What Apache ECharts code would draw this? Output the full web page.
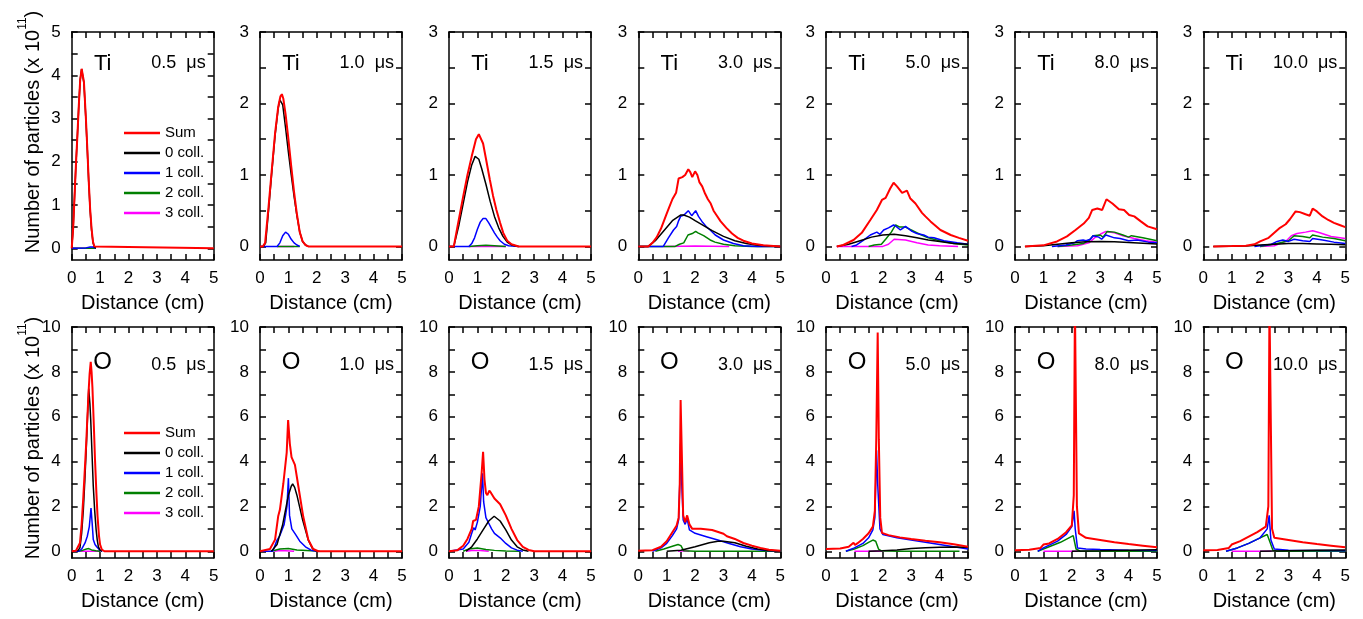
<!DOCTYPE html>
<html><head><meta charset="utf-8">
<script src="https://cdn.jsdelivr.net/npm/echarts@6/dist/echarts.min.js"></script>
<style>html,body{margin:0;padding:0;background:#fff}#c{width:1363px;height:619px}</style>
</head><body><div id="c"></div>
<script>
// ---------- tick / label values ----------
const X_TICKS = [0,0.5,1,1.5,2,2.5,3,3.5,4,4.5,5];
const X_LABELS = [0,1,2,3,4,5];
const TI5_TICKS = [0,0.5,1,1.5,2,2.5,3,3.5,4,4.5,5];
const TI5_LABELS = [0,1,2,3,4,5];
const TI3_TICKS = [0,0.5,1,1.5,2,2.5,3];
const TI3_LABELS = [0,1,2,3];
const O_TICKS = [0,1,2,3,4,5,6,7,8,9,10];
const O_LABELS = [0,2,4,6,8,10];
const TIMES = ['0.5  \u03bcs','1.0  \u03bcs','1.5  \u03bcs','3.0  \u03bcs','5.0  \u03bcs','8.0  \u03bcs','10.0  \u03bcs'];
const LEGEND_NAMES = ['Sum','0 coll.','1 coll.','2 coll.','3 coll.'];

// ---------- Ti panels (x in cm, y in 1e11) ----------
const ti_05 = {
  sum: [[0,0],[0.05,0.45],[0.1,1.2],[0.15,1.95],[0.2,2.6],[0.25,3.3],[0.3,3.9],[0.35,4.15],[0.39,4.12],[0.43,3.85],[0.5,3.0],[0.55,2.3],[0.6,1.55],[0.65,0.9],[0.7,0.45],[0.75,0.15],[0.8,0.04],[0.85,0],[5,0]],
  c0: [[0,0],[0.05,0.45],[0.1,1.2],[0.15,1.95],[0.2,2.6],[0.25,3.3],[0.3,3.9],[0.35,4.14],[0.39,4.1],[0.43,3.82],[0.5,2.97],[0.55,2.27],[0.6,1.52],[0.65,0.87],[0.7,0.42],[0.75,0.13],[0.8,0.03],[0.85,0]],
  c1: [[0,0],[0.5,0.01],[0.65,0.03],[0.75,0.03],[0.85,0]],
  c2: [[0,0],[0.85,0]],
  c3: [[0,0],[0.85,0]]
};
const ti_10 = {
  sum: [[0,0],[0.1,0],[0.18,0.05],[0.3,0.55],[0.4,1.0],[0.53,1.58],[0.64,1.95],[0.72,2.1],[0.77,2.13],[0.82,2.07],[0.9,1.85],[1.0,1.5],[1.1,1.12],[1.2,0.76],[1.3,0.45],[1.4,0.2],[1.5,0.07],[1.6,0.02],[1.7,0],[5,0]],
  c0: [[0,0],[0.12,0],[0.2,0.05],[0.3,0.5],[0.4,0.97],[0.53,1.55],[0.64,1.93],[0.7,2.05],[0.74,2.07],[0.8,1.98],[0.9,1.66],[1.0,1.32],[1.1,1.0],[1.2,0.7],[1.3,0.43],[1.4,0.2],[1.5,0.07],[1.6,0.02],[1.7,0]],
  c1: [[0,0],[0.6,0],[0.7,0.05],[0.8,0.15],[0.9,0.2],[1.0,0.17],[1.1,0.1],[1.2,0.05],[1.3,0.02],[1.4,0]],
  c2: [[0.6,0],[1.4,0]],
  c3: [[0.6,0],[1.2,0]]
};
const ti_15 = {
  sum: [[0,0],[0.17,0],[0.3,0.28],[0.5,0.7],[0.65,1.0],[0.8,1.26],[0.95,1.5],[1.05,1.57],[1.12,1.55],[1.2,1.44],[1.3,1.23],[1.44,0.93],[1.55,0.71],[1.67,0.51],[1.8,0.33],[1.91,0.19],[2.05,0.08],[2.2,0.03],[2.45,0],[5,0]],
  c0: [[0,0],[0.17,0],[0.35,0.3],[0.5,0.6],[0.65,0.9],[0.8,1.14],[0.92,1.26],[0.97,1.27],[1.05,1.22],[1.15,1.09],[1.3,0.87],[1.45,0.63],[1.6,0.42],[1.75,0.26],[1.9,0.14],[2.05,0.06],[2.2,0.02],[2.45,0]],
  c1: [[0,0],[0.7,0],[0.8,0.04],[0.9,0.12],[1.0,0.24],[1.1,0.34],[1.2,0.39],[1.3,0.39],[1.4,0.33],[1.5,0.26],[1.6,0.19],[1.7,0.13],[1.8,0.08],[1.95,0.03],[2.1,0.01],[2.45,0]],
  c2: [[0.7,0],[1.0,0.01],[1.3,0.015],[1.6,0.01],[2.0,0]],
  c3: [[0.7,0],[2.0,0]]
};
const ti_30 = {
  sum: [[0,0],[0.35,0],[0.5,0.05],[0.65,0.13],[0.8,0.25],[1.0,0.46],[1.1,0.56],[1.2,0.66],[1.33,0.75],[1.42,0.95],[1.55,0.97],[1.65,1.0],[1.76,1.08],[1.83,1.04],[1.9,0.97],[2.0,1.05],[2.08,1.0],[2.15,0.9],[2.25,0.84],[2.35,0.74],[2.45,0.66],[2.55,0.6],[2.65,0.5],[2.75,0.44],[2.9,0.35],[3.1,0.26],[3.3,0.18],[3.5,0.12],[3.7,0.08],[4.0,0.04],[4.4,0.015],[5,0]],
  c0: [[0,0],[0.35,0],[0.6,0.08],[0.9,0.22],[1.2,0.36],[1.5,0.44],[1.6,0.44],[1.8,0.41],[2.0,0.36],[2.3,0.29],[2.6,0.22],[3.0,0.14],[3.4,0.08],[3.8,0.04],[4.2,0.015],[4.6,0.005],[5,0]],
  c1: [[0,0],[0.88,0],[1.06,0.12],[1.24,0.23],[1.35,0.28],[1.41,0.35],[1.49,0.42],[1.61,0.44],[1.76,0.5],[1.88,0.43],[2.02,0.5],[2.12,0.42],[2.24,0.35],[2.41,0.27],[2.53,0.23],[2.71,0.16],[3.0,0.09],[3.35,0.04],[3.7,0.01],[4.2,0],[5,0]],
  c2: [[0,0],[1.3,0],[1.45,0.03],[1.6,0.05],[1.75,0.16],[1.9,0.18],[2.02,0.21],[2.1,0.19],[2.3,0.15],[2.53,0.09],[2.7,0.06],[3.0,0.03],[3.4,0.01],[4,0],[5,0]],
  c3: [[0.9,0],[1.5,0.004],[2.0,0.006],[2.6,0.004],[3.2,0]]
};
const ti_50 = {
  sum: [[0.38,0],[0.61,0.02],[0.97,0.09],[1.26,0.19],[1.56,0.37],[1.79,0.51],[1.97,0.65],[2.1,0.68],[2.26,0.81],[2.38,0.89],[2.5,0.84],[2.68,0.75],[2.85,0.78],[2.97,0.67],[3.15,0.6],[3.38,0.47],[3.5,0.42],[3.68,0.35],[4.03,0.23],[4.39,0.16],[4.68,0.12],[5,0.08]],
  c0: [[0.38,0],[0.8,0.03],[1.2,0.08],[1.6,0.13],[2.0,0.16],[2.4,0.17],[2.8,0.15],[3.2,0.12],[3.6,0.09],[4.0,0.07],[4.5,0.04],[5,0.03]],
  c1: [[0.9,0],[1.08,0.02],[1.3,0.08],[1.56,0.16],[1.79,0.2],[1.9,0.17],[2.03,0.23],[2.2,0.26],[2.38,0.3],[2.5,0.27],[2.62,0.23],[2.8,0.28],[3.03,0.21],[3.2,0.18],[3.44,0.16],[3.6,0.13],[3.8,0.12],[4.15,0.08],[4.62,0.05],[5,0.03]],
  c2: [[1.5,0],[1.7,0.02],[1.95,0.03],[2.1,0.1],[2.3,0.2],[2.45,0.3],[2.6,0.27],[2.8,0.27],[3.0,0.23],[3.3,0.17],[3.6,0.12],[4.0,0.08],[4.5,0.04],[5,0.02]],
  c3: [[0.38,0],[2.0,0],[2.2,0.03],[2.4,0.1],[2.8,0.09],[3.2,0.05],[3.6,0.02],[4.0,0.01],[4.65,0]]
};
const ti_80 = {
  sum: [[0.35,0],[1.0,0.015],[1.48,0.07],[1.83,0.14],[2.13,0.23],[2.42,0.32],[2.6,0.4],[2.72,0.51],[2.9,0.53],[3.07,0.51],[3.22,0.66],[3.43,0.6],[3.66,0.52],[3.84,0.51],[4.02,0.44],[4.2,0.42],[4.43,0.35],[4.67,0.28],[5,0.24]],
  c0: [[0.35,0],[1.0,0.01],[1.5,0.03],[2.0,0.05],[2.5,0.065],[3.0,0.07],[3.5,0.065],[4.0,0.055],[4.5,0.045],[5,0.035]],
  c1: [[1.3,0],[1.8,0.02],[2.1,0.05],[2.2,0.08],[2.4,0.09],[2.5,0.08],[2.65,0.1],[2.75,0.15],[2.95,0.13],[3.05,0.1],[3.2,0.16],[3.5,0.12],[3.7,0.11],[4.0,0.08],[4.3,0.09],[4.7,0.06],[5,0.05]],
  c2: [[1.5,0],[2.0,0.02],[2.4,0.04],[2.6,0.08],[2.75,0.15],[3.0,0.16],[3.1,0.13],[3.25,0.21],[3.5,0.2],[3.8,0.16],[4.0,0.13],[4.1,0.15],[4.5,0.12],[5,0.08]],
  c3: [[1.5,0],[2.2,0.01],[2.6,0.05],[2.8,0.12],[3.0,0.17],[3.2,0.21],[3.5,0.19],[3.8,0.15],[4.2,0.11],[4.6,0.08],[5,0.06]]
};
const ti_100 = {
  sum: [[0.35,0],[1.0,0.005],[1.5,0.01],[1.8,0.03],[2.0,0.07],[2.3,0.12],[2.5,0.19],[2.7,0.26],[2.9,0.31],[3.05,0.38],[3.25,0.49],[3.4,0.48],[3.6,0.45],[3.75,0.43],[3.85,0.53],[4.0,0.49],[4.2,0.42],[4.4,0.37],[4.6,0.33],[4.8,0.3],[5,0.27]],
  c0: [[0.35,0],[1.5,0.005],[2,0.02],[2.5,0.03],[3,0.04],[3.5,0.04],[4,0.035],[4.5,0.03],[5,0.025]],
  c1: [[1.8,0],[2.4,0.03],[2.6,0.07],[2.8,0.09],[3.0,0.07],[3.2,0.1],[3.5,0.08],[3.75,0.07],[3.85,0.11],[4.2,0.09],[4.6,0.06],[5,0.04]],
  c2: [[2.0,0],[2.6,0.04],[3.0,0.08],[3.2,0.15],[3.5,0.14],[3.75,0.12],[3.85,0.16],[4.2,0.13],[4.6,0.11],[5,0.08]],
  c3: [[2.0,0],[2.5,0.01],[2.9,0.07],[3.1,0.15],[3.3,0.18],[3.6,0.2],[3.85,0.22],[4.1,0.19],[4.5,0.14],[5,0.11]]
};

// ---------- O panels ----------
const o_05 = {
  sum: [[0,0],[0.15,0.02],[0.22,0.1],[0.29,0.37],[0.35,1.2],[0.41,2.44],[0.46,3.6],[0.51,4.8],[0.55,5.9],[0.59,7.0],[0.63,7.9],[0.67,8.45],[0.7,8.0],[0.73,7.3],[0.78,5.6],[0.82,4.1],[0.87,2.6],[0.91,1.56],[0.96,0.7],[1.0,0.3],[1.06,0.08],[1.15,0],[5,0]],
  c0: [[0.2,0],[0.29,0.15],[0.35,0.8],[0.41,1.85],[0.46,3.1],[0.51,4.5],[0.56,6.1],[0.6,7.26],[0.64,6.6],[0.67,5.85],[0.72,4.2],[0.76,2.9],[0.81,1.8],[0.86,0.96],[0.9,0.5],[0.94,0.2],[1.0,0.05],[1.06,0]],
  c1: [[0,0],[0.25,0],[0.35,0.1],[0.47,0.37],[0.55,0.67],[0.62,1.1],[0.68,1.93],[0.72,1.26],[0.76,0.52],[0.82,0.3],[0.88,0.2],[1.0,0.04],[1.08,0]],
  c2: [[0,0],[0.25,0],[0.4,0.05],[0.52,0.1],[0.6,0.12],[0.7,0.06],[0.85,0.02],[1.0,0]],
  c3: [[0.3,0],[1.0,0]]
};
const o_10 = {
  sum: [[0,0],[0.35,0.1],[0.53,0.52],[0.64,1.56],[0.7,1.85],[0.82,3.0],[0.94,4.4],[0.99,5.85],[1.02,5.93],[1.05,4.8],[1.11,4.2],[1.23,3.85],[1.35,2.9],[1.52,1.56],[1.7,0.52],[1.87,0.1],[2.05,0],[5,0]],
  c0: [[0.4,0],[0.6,0.3],[0.8,1.2],[1.0,2.5],[1.1,2.9],[1.15,3.0],[1.22,2.85],[1.3,2.5],[1.5,1.4],[1.7,0.5],[1.85,0.12],[2.0,0]],
  c1: [[0,0],[0.45,0],[0.6,0.5],[0.7,0.7],[0.85,1.2],[0.95,2.0],[1.0,3.26],[1.04,1.6],[1.12,1.0],[1.25,0.75],[1.4,0.45],[1.6,0.2],[1.8,0.05],[2.0,0]],
  c2: [[0.4,0],[0.7,0.1],[1.0,0.12],[1.3,0.06],[1.8,0.02],[2.1,0]],
  c3: [[0.5,0],[0.7,0.03],[0.9,0.02],[1.2,0]]
};
const o_15 = {
  sum: [[0,0],[0.3,0.05],[0.5,0.25],[0.65,0.55],[0.8,1.0],[0.85,1.35],[0.9,1.3],[0.95,1.4],[1.05,2.0],[1.15,3.5],[1.2,4.44],[1.25,3.2],[1.3,2.6],[1.35,2.5],[1.42,2.7],[1.48,2.6],[1.6,2.35],[1.8,2.1],[2.0,1.6],[2.2,1.0],[2.4,0.5],[2.6,0.2],[2.8,0.06],[3.0,0],[5,0]],
  c0: [[0.6,0],[0.8,0.2],[1.0,0.55],[1.2,0.95],[1.4,1.35],[1.59,1.56],[1.8,1.35],[2.0,0.95],[2.2,0.5],[2.4,0.2],[2.6,0.06],[2.8,0]],
  c1: [[0,0],[0.5,0.1],[0.7,0.4],[0.8,0.8],[0.87,1.05],[0.92,0.95],[1.0,1.3],[1.1,2.0],[1.18,3.48],[1.22,2.2],[1.3,1.5],[1.4,1.25],[1.5,1.0],[1.6,0.8],[1.8,0.6],[2.0,0.35],[2.2,0.15],[2.4,0.05],[2.6,0]],
  c2: [[0.5,0],[0.7,0.1],[1.0,0.15],[1.3,0.08],[1.6,0.04],[2.0,0.01],[2.5,0]],
  c3: [[0.6,0],[0.8,0.03],[1.0,0.04],[1.2,0.02],[1.4,0]]
};
const o_30 = {
  sum: [[0,0.02],[0.5,0.05],[0.8,0.2],[1.0,0.45],[1.2,0.85],[1.35,1.15],[1.42,1.5],[1.46,3.0],[1.49,6.74],[1.53,4.5],[1.58,1.6],[1.65,1.3],[1.72,1.6],[1.8,1.2],[1.9,1.0],[2.2,1.0],[2.6,0.95],[3.0,0.78],[3.12,0.67],[3.4,0.55],[3.7,0.37],[4.0,0.25],[4.3,0.15],[4.6,0.07],[5,0.02]],
  c0: [[1.0,0],[1.5,0.05],[2.0,0.2],[2.5,0.38],[2.8,0.45],[3.0,0.45],[3.4,0.38],[3.8,0.22],[4.2,0.1],[4.6,0.03],[5,0.01]],
  c1: [[0.5,0],[0.8,0.15],[1.0,0.35],[1.2,0.7],[1.35,1.0],[1.42,1.4],[1.46,3.0],[1.49,4.8],[1.53,3.0],[1.58,1.4],[1.65,1.2],[1.72,1.45],[1.8,0.95],[2.0,0.8],[2.4,0.65],[2.8,0.5],[3.2,0.35],[3.6,0.2],[4.0,0.1],[4.5,0.03],[5,0.01]],
  c2: [[0.6,0],[0.9,0.1],[1.2,0.22],[1.4,0.3],[1.5,0.25],[1.6,0.02],[2,0],[5,0]],
  c3: [[1.4,0],[1.6,0.02],[1.8,0]]
};
const o_50 = {
  sum: [[0,0.1],[0.5,0.12],[0.8,0.2],[0.97,0.38],[1.02,0.28],[1.1,0.35],[1.3,0.55],[1.5,0.8],[1.65,1.1],[1.72,1.8],[1.77,5.0],[1.82,9.75],[1.86,5.0],[1.91,1.5],[1.97,0.82],[2.2,0.72],[2.6,0.62],[3.0,0.55],[3.5,0.47],[4.0,0.4],[4.5,0.31],[5,0.2]],
  c0: [[1.5,0],[2.0,0.02],[2.5,0.06],[3.0,0.12],[3.5,0.16],[4.0,0.18],[4.5,0.19],[5,0.18]],
  c1: [[0.7,0],[1.0,0.15],[1.3,0.35],[1.5,0.6],[1.65,0.95],[1.72,1.5],[1.78,4.5],[1.82,3.0],[1.9,1.0],[2.0,0.75],[2.5,0.6],[3.0,0.5],[3.5,0.4],[4.0,0.3],[4.5,0.2],[5,0.1]],
  c2: [[0.7,0],[1.0,0.1],[1.3,0.25],[1.5,0.4],[1.65,0.5],[1.75,0.45],[1.85,0.1],[1.95,0.02],[2.5,0],[4.7,0]],
  c3: [[1.0,0],[2.0,0]]
};
const o_80 = {
  sum: [[0,0.05],[0.5,0.07],[0.9,0.15],[1.0,0.3],[1.2,0.35],[1.5,0.55],[1.8,0.85],[2.0,1.15],[2.07,2.5],[2.11,11],[2.14,11],[2.18,2.0],[2.25,0.8],[2.5,0.6],[3.0,0.5],[3.5,0.4],[4.0,0.32],[4.5,0.25],[5,0.18]],
  c0: [[2.0,0],[3.0,0.02],[4.0,0.05],[5,0.07]],
  c1: [[0.8,0],[1.0,0.15],[1.5,0.45],[1.8,0.75],[2.0,1.1],[2.08,1.8],[2.12,1.0],[2.2,0.15],[2.5,0.1],[3,0.08],[4,0.05],[5,0.03]],
  c2: [[0.8,0],[1.2,0.2],[1.6,0.4],[1.9,0.6],[2.05,0.7],[2.15,0.1],[2.3,0],[5,0]],
  c3: [[1.0,0],[2.2,0]]
};
const o_100 = {
  sum: [[0,0.05],[0.5,0.06],[0.9,0.15],[1.0,0.3],[1.3,0.45],[1.6,0.65],[1.9,0.85],[2.2,1.1],[2.29,2.0],[2.33,11],[2.37,11],[2.42,1.0],[2.5,0.6],[3.0,0.5],[3.5,0.4],[4.0,0.32],[4.5,0.25],[5,0.18]],
  c0: [[2.0,0],[3.0,0.02],[4.0,0.04],[5,0.06]],
  c1: [[0.8,0],[1.2,0.15],[1.6,0.35],[2.0,0.6],[2.25,1.0],[2.32,1.6],[2.38,0.5],[2.5,0.1],[3,0.05],[5,0.02]],
  c2: [[0.8,0],[1.2,0.15],[1.6,0.35],[2.0,0.6],[2.25,0.75],[2.35,0.4],[2.45,0.05],[2.6,0],[5,0]],
  c3: [[1.0,0],[2.4,0]]
};

const TI_PANELS = [ti_05, ti_10, ti_15, ti_30, ti_50, ti_80, ti_100];
const O_PANELS = [o_05, o_10, o_15, o_30, o_50, o_80, o_100];

// ---------- layout / style ----------
const FONT = "'Liberation Sans', Arial, sans-serif";
const LEFTS = [71.7, 260, 449, 638.3, 826, 1015, 1203.3];
const PW = 142;
const ROW_TOP = [32, 327];
const ROW_H = [228, 231];
const KEYS = ['c3','c2','c1','c0','sum'];          // draw order (Sum on top)
const NAMES = {sum:'Sum', c0:'0 coll.', c1:'1 coll.', c2:'2 coll.', c3:'3 coll.'};
const COLORS = {sum:'#ff0000', c0:'#000000', c1:'#0000ff', c2:'#008000', c3:'#ff00ff'};

const grids = [], xAxes = [], yAxes = [], series = [], graphics = [];
const lineSt = {color:'#000', width:1.5};

for (let i = 0; i < 14; i++) {
  const row = i < 7 ? 0 : 1, col = i % 7;
  const panel = row === 0 ? TI_PANELS[col] : O_PANELS[col];
  let ymin, ymax, yt, yl;
  if (row === 1) { ymin = -0.3; ymax = 10; yt = O_TICKS; yl = O_LABELS; }
  else if (col === 0) { ymin = -0.27; ymax = 5; yt = TI5_TICKS; yl = TI5_LABELS; }
  else { ymin = -0.19; ymax = 3; yt = TI3_TICKS; yl = TI3_LABELS; }

  grids.push({left: LEFTS[col], top: ROW_TOP[row], width: PW, height: ROW_H[row], outerBoundsMode: 'none', containLabel: false});

  xAxes.push({
    gridIndex: i, type: 'value', min: 0, max: 5, position: 'bottom',
    axisLine: {show: true, onZero: false, lineStyle: lineSt},
    axisTick: {show: true, inside: true, length: 6, customValues: X_TICKS, lineStyle: lineSt},
    axisLabel: {show: true, customValues: X_LABELS, fontSize: 17, color: '#000', margin: 10, fontFamily: FONT},
    splitLine: {show: false},
    name: 'Distance (cm)', nameLocation: 'middle', nameGap: 33,
    nameTextStyle: {fontSize: 20, color: '#000', fontFamily: FONT}
  });
  xAxes.push({
    gridIndex: i, type: 'value', min: 0, max: 5, position: 'top',
    axisLine: {show: true, onZero: false, lineStyle: lineSt},
    axisTick: {show: true, inside: true, length: 6, customValues: X_TICKS, lineStyle: lineSt},
    axisLabel: {show: false}, splitLine: {show: false}
  });
  yAxes.push({
    gridIndex: i, type: 'value', min: ymin, max: ymax, position: 'left',
    axisLine: {show: true, onZero: false, lineStyle: lineSt},
    axisTick: {show: true, inside: true, length: 6, customValues: yt, lineStyle: lineSt},
    axisLabel: {show: true, customValues: yl, fontSize: 17, color: '#000', margin: 11, fontFamily: FONT},
    splitLine: {show: false}
  });
  yAxes.push({
    gridIndex: i, type: 'value', min: ymin, max: ymax, position: 'right',
    axisLine: {show: true, onZero: false, lineStyle: lineSt},
    axisTick: {show: true, inside: true, length: 6, customValues: yt, lineStyle: lineSt},
    axisLabel: {show: false}, splitLine: {show: false}
  });

  KEYS.forEach(k => {
    series.push({
      type: 'line', name: NAMES[k], xAxisIndex: 2*i, yAxisIndex: 2*i,
      data: panel[k], showSymbol: false, symbol: 'none', clip: true,
      color: COLORS[k], itemStyle: {color: COLORS[k]},
      lineStyle: {color: COLORS[k], width: k === 'sum' ? 2 : 1.5},
      animation: false, silent: true
    });
  });

  const gl = LEFTS[col], gt = ROW_TOP[row];
  graphics.push({
    type: 'text', x: gl + 31, y: gt + (row === 0 ? 31.5 : 35.5),
    style: {text: row === 0 ? 'Ti' : 'O', font: (row === 0 ? '22px ' : '24px ') + FONT, fill: '#000', align: 'center', verticalAlign: 'middle'}
  });
  graphics.push({
    type: 'text', x: gl + PW - 8, y: gt + (row === 0 ? 31.5 : 38),
    style: {text: TIMES[col], font: '18px ' + FONT, fill: '#000', align: 'right', verticalAlign: 'middle'}
  });
}

[132, 438].forEach(cy => {
  graphics.push({
    type: 'text', x: 30, y: cy, rotation: Math.PI / 2,
    style: {
      text: '{a|Number of particles (x 10}{b|11}{a|)}',
      align: 'center', verticalAlign: 'middle', fill: '#000',
      rich: {
        a: {fontSize: 20, fontFamily: FONT, fill: '#000', lineHeight: 26, verticalAlign: 'bottom'},
        b: {fontSize: 12, fontFamily: FONT, fill: '#000', lineHeight: 26, verticalAlign: 'top'}
      }
    }
  });
});

const legendBase = {
  data: LEGEND_NAMES, orient: 'vertical', left: 124, icon: 'rect', padding: 0,
  itemWidth: 36, itemHeight: 2.5, itemGap: 4, selectedMode: false,
  textStyle: {fontSize: 15, lineHeight: 16, color: '#000', fontFamily: FONT}
};

const chart = echarts.init(document.getElementById('c'), null, {renderer: 'canvas'});
chart.setOption({
  backgroundColor: '#fff',
  animation: false,
  grid: grids, xAxis: xAxes, yAxis: yAxes, series: series,
  legend: [Object.assign({top: 125}, legendBase), Object.assign({top: 425}, legendBase)],
  graphic: {elements: graphics}
});
</script>
</body></html>
